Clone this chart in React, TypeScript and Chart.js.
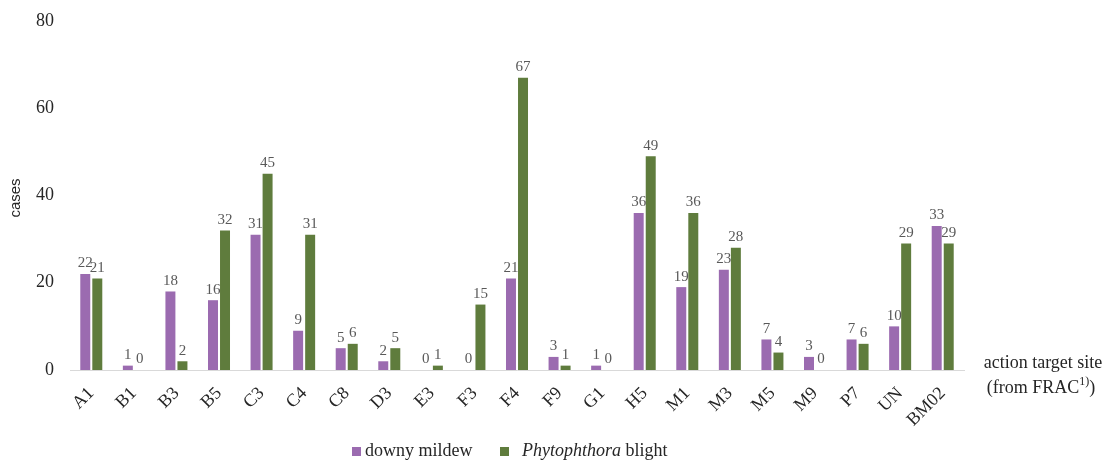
import React, { useEffect, useRef } from "react";
import { Chart, registerables } from "chart.js";

Chart.register(...registerables);

const categories = ["A1", "B1", "B3", "B5", "C3", "C4", "C8", "D3", "E3", "F3", "F4", "F9", "G1", "H5", "M1", "M3", "M5", "M9", "P7", "UN", "BM02"];
const downyMildew = [22, 1, 18, 16, 31, 9, 5, 2, 0, 0, 21, 3, 1, 36, 19, 23, 7, 3, 7, 10, 33];
const phytophthoraBlight = [21, 0, 2, 32, 45, 31, 6, 5, 1, 15, 67, 1, 0, 49, 36, 28, 4, 0, 6, 29, 29];
const yTicks = [0, 20, 40, 60, 80];

const PURPLE = "#9b6bb0";
const GREEN = "#5f7c3d";
const SERIF = "'Liberation Serif', 'Times New Roman', serif";
const SANS = "'Liberation Sans', Arial, sans-serif";

const extrasPlugin = {
  id: "extras",
  afterDatasetsDraw(chart: any) {
    const ctx = chart.ctx;
    ctx.save();
    // data labels
    ctx.font = `15px ${SERIF}`;
    ctx.fillStyle = "#595959";
    ctx.textAlign = "center";
    ctx.textBaseline = "bottom";
    chart.data.datasets.forEach((ds: any, di: number) => {
      const meta = chart.getDatasetMeta(di);
      meta.data.forEach((bar: any, i: number) => {
        ctx.fillText(String(ds.data[i]), bar.x, bar.y - 3);
      });
    });
    // y title
    ctx.save();
    ctx.translate(16, 198);
    ctx.rotate(-Math.PI / 2);
    ctx.font = `15px ${SANS}`;
    ctx.fillStyle = "#262626";
    ctx.textAlign = "center";
    ctx.textBaseline = "middle";
    ctx.fillText("cases", 0, 0);
    ctx.restore();
    // x axis title at right
    ctx.fillStyle = "#262626";
    ctx.font = `18px ${SERIF}`;
    ctx.textBaseline = "middle";
    ctx.textAlign = "center";
    ctx.fillText("action target site", 1043, 363);
    ctx.textAlign = "left";
    const p1 = "(from FRAC";
    const w1 = ctx.measureText(p1).width;
    ctx.font = `12px ${SERIF}`;
    const w2 = ctx.measureText("1)").width;
    ctx.font = `18px ${SERIF}`;
    const w3 = ctx.measureText(")").width;
    let x = 1041 - (w1 + w2 + w3) / 2;
    ctx.fillText(p1, x, 388);
    x += w1;
    ctx.font = `12px ${SERIF}`;
    ctx.fillText("1)", x, 382);
    x += w2;
    ctx.font = `18px ${SERIF}`;
    ctx.fillText(")", x, 388);
    // legend
    const ly = 451;
    ctx.fillStyle = PURPLE;
    ctx.fillRect(352, ly - 4, 9, 9);
    ctx.fillStyle = GREEN;
    ctx.fillRect(500, ly - 4, 9, 9);
    ctx.fillStyle = "#262626";
    ctx.textBaseline = "middle";
    ctx.font = `18px ${SERIF}`;
    ctx.fillText("downy mildew", 365, ly);
    ctx.font = `italic 18px ${SERIF}`;
    ctx.fillText("Phytophthora", 522, ly);
    const wi = ctx.measureText("Phytophthora ").width;
    ctx.font = `18px ${SERIF}`;
    ctx.fillText("blight", 522 + wi, ly);
    ctx.restore();
  },
};

export default function App() {
  const ref = useRef<HTMLCanvasElement | null>(null);
  useEffect(() => {
    if (!ref.current) return;
    const chart = new Chart(ref.current, {
      type: "bar",
      data: {
        labels: categories,
        datasets: [
          { label: "downy mildew", data: downyMildew, backgroundColor: PURPLE, barPercentage: 0.83, categoryPercentage: 0.565 },
          { label: "Phytophthora blight", data: phytophthoraBlight, backgroundColor: GREEN, barPercentage: 0.83, categoryPercentage: 0.565 },
        ],
      },
      options: {
        animation: false,
        responsive: false,
        layout: { padding: { top: 21, right: 141, left: 0, bottom: 0 } },
        plugins: { legend: { display: false }, tooltip: { enabled: false } },
        scales: {
          x: {
            grid: { display: false, drawTicks: false },
            border: { display: true, color: "#d9d9d9", width: 1 },
            ticks: {
              color: "#262626",
              font: { family: SERIF, size: 18 },
              maxRotation: 45,
              minRotation: 45,
              padding: 13,
              autoSkip: false,
            },
            afterFit: (s: any) => {
              s.height = 90;
              s.paddingLeft = 0;
              s.paddingRight = 0;
            },
          },
          y: {
            min: 0,
            max: 80,
            afterBuildTicks: (s: any) => {
              s.ticks = yTicks.map((v) => ({ value: v }));
            },
            grid: { display: false, drawTicks: false },
            border: { display: false },
            ticks: {
              color: "#262626",
              font: { family: SERIF, size: 18 },
              padding: 16,
            },
            afterFit: (s: any) => {
              s.width = 70;
              s.paddingTop = 0;
              s.paddingBottom = 0;
            },
          },
        },
      },
      plugins: [extrasPlugin],
    });
    return () => chart.destroy();
  }, []);
  return (
    <div style={{ position: "fixed", left: 0, top: 0, width: 1105, height: 460, background: "#fff" }}>
      <canvas ref={ref} width={1105} height={460} style={{ display: "block" }} />
    </div>
  );
}
